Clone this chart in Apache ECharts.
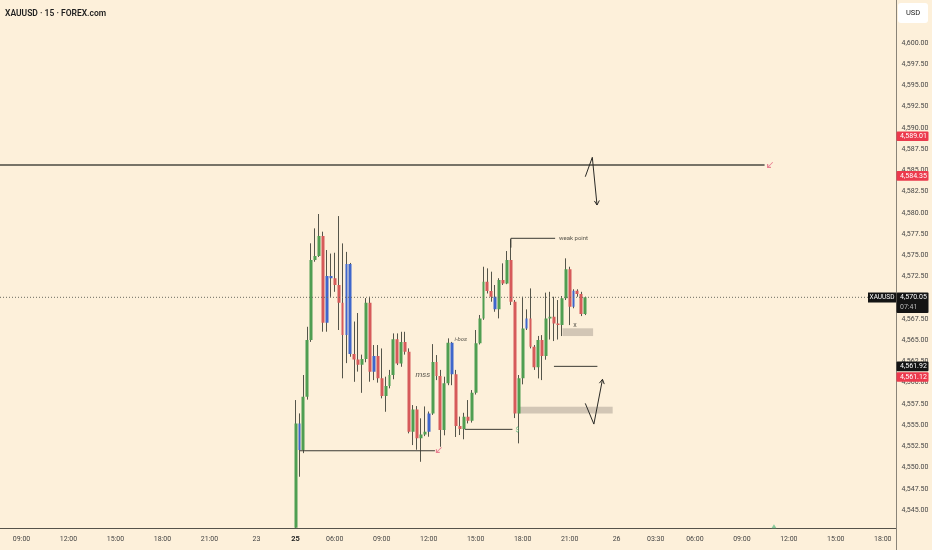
<!DOCTYPE html>
<html><head><meta charset="utf-8">
<script src="https://cdn.jsdelivr.net/npm/echarts@6/dist/echarts.min.js"></script>
<style>html,body{margin:0;padding:0;background:#fdf0da}#c{width:932px;height:550px}</style>
</head><body><div id="c"></div>
<script>
// ---- time slots (15 min bars) : [day, first time, bar count]
const daySegments = [['22','07:45',65],['23','00:00',10],['25','03:30',82],['26','00:00',10],['26','03:30',62]];
// ---- tick labels shown on the time axis
const tickLabels = [['22 09:00','09:00'],['22 12:00','12:00'],['22 15:00','15:00'],['22 18:00','18:00'],['22 21:00','21:00'],
  ['23 00:00','23'],['25 03:30','25'],['25 06:00','06:00'],['25 09:00','09:00'],['25 12:00','12:00'],['25 15:00','15:00'],
  ['25 18:00','18:00'],['25 21:00','21:00'],['26 00:00','26'],['26 03:30','03:30'],['26 06:00','06:00'],['26 09:00','09:00'],
  ['26 12:00','12:00'],['26 15:00','15:00'],['26 18:00','18:00']];
const boldTicks = ['25'];
// ---- candles [open, close, low, high], first candle at slot 75 (its open lies at the bottom edge of the view)
const candleStart = 75;
const ohlc = [
[4542.90,4555.20,4542.90,4557.95],[4555.20,4552.06,4548.92,4556.38],[4552.06,4558.34,4551.70,4560.90],[4558.34,4565.02,4558.00,4566.58],[4565.02,4574.44,4564.80,4576.41],
[4574.44,4574.91,4574.24,4578.17],[4574.91,4577.27,4574.80,4579.86],[4577.27,4567.05,4566.00,4577.78],[4567.05,4572.56,4566.00,4575.62],[4572.56,4572.30,4570.10,4575.20],
[4572.30,4571.49,4570.70,4575.30],[4571.49,4569.41,4566.20,4579.62],[4569.41,4565.61,4560.51,4576.40],[4565.61,4573.97,4562.30,4575.40],[4573.97,4563.37,4563.05,4574.10],
[4563.37,4562.74,4560.10,4567.20],[4562.74,4562.11,4561.30,4568.20],[4562.11,4562.80,4558.80,4563.30],[4562.80,4569.41,4562.40,4569.96],[4569.41,4561.28,4560.11,4570.12],
[4561.28,4563.13,4560.30,4564.43],[4563.13,4560.51,4560.00,4564.43],[4560.51,4558.42,4558.15,4564.03],[4558.42,4559.60,4556.57,4560.70],[4559.60,4560.90,4559.33,4561.50],
[4560.90,4565.10,4560.40,4565.80],[4565.10,4562.27,4562.07,4565.80],[4562.27,4564.78,4561.87,4565.99],[4564.78,4563.64,4563.30,4565.99],[4563.64,4554.22,4554.03,4564.04],
[4554.22,4556.85,4552.65,4557.36],[4556.85,4553.44,4552.10,4557.24],[4553.44,4553.90,4550.68,4555.80],[4553.90,4554.22,4553.70,4557.20],[4554.22,4556.38,4553.63,4556.60],
[4556.38,4562.43,4556.20,4564.54],[4562.43,4560.78,4560.30,4563.25],[4560.78,4554.42,4552.45,4561.50],[4554.42,4559.92,4553.80,4560.70],[4559.92,4564.70,4559.70,4565.22],
[4564.70,4561.00,4559.70,4564.80],[4561.00,4554.89,4553.60,4561.50],[4554.89,4554.53,4553.83,4556.00],[4554.53,4555.98,4553.33,4556.45],[4555.98,4555.51,4555.20,4557.95],
[4555.51,4558.81,4555.30,4559.13],[4558.81,4564.63,4558.60,4566.20],[4564.63,4567.57,4564.50,4567.97],[4567.57,4571.88,4567.40,4573.65],[4571.88,4570.79,4570.50,4573.46],
[4570.79,4570.12,4569.53,4573.07],[4570.12,4568.63,4568.35,4571.50],[4568.63,4572.08,4567.57,4572.30],[4572.08,4571.69,4571.50,4574.05],[4571.69,4574.44,4571.60,4575.50],
[4574.44,4569.53,4569.14,4576.90],[4569.53,4556.38,4555.83,4569.73],[4556.38,4560.51,4552.85,4560.90],[4560.51,4566.39,4559.80,4570.12],[4566.39,4567.57,4566.20,4568.63],
[4567.57,4564.23,4564.04,4571.10],[4564.23,4561.80,4561.50,4564.43],[4561.80,4565.02,4560.50,4565.50],[4565.02,4563.13,4560.30,4565.60],[4563.13,4567.57,4562.70,4570.60],
[4567.57,4567.76,4565.08,4570.70],[4567.76,4566.98,4564.90,4570.12],[4566.98,4566.78,4565.08,4569.73],[4566.78,4569.93,4565.49,4570.20],[4569.93,4573.35,4569.73,4574.64],
[4573.35,4568.94,4566.78,4573.65],[4568.94,4570.83,4568.76,4571.00],[4570.83,4570.44,4570.12,4571.00],[4570.44,4568.08,4567.84,4570.70],[4568.08,4570.05,4567.96,4570.12]
];
// candle highlight classes: G green, R red, B blue
const candleClasses = 'GBGGG GGRBB RRRBB RRGGR BRRGG GRGRR GRGGB GRRGG BRRGR GGGGR RBGRG RRGGB RRGRG GRRGG RBRRG'.replace(/ /g,'').split('');
const lastPrice = 4570.05;
// ---- drawings, points are [slot, price]
const resistanceLine = [[-0.5,4585.63],[194.8,4585.63]];
const lowLineA = [[76.1,4551.98],[110.6,4551.98]];
const lowLineB = [[118.2,4554.50],[130.4,4554.50]];
const midLine = [[141.0,4561.92],[152.1,4561.92]];
const weakPointLine = [[130,4575.9],[130,4577.0],[141.3,4577.0]];
const arrowDown = [[149.0,4584.25],[150.8,4586.54],[152.0,4580.92]];
const arrowDownHead = [[151.33,4581.40],[152.0,4580.92],[152.6,4581.46]];
const arrowUp = [[149.0,4557.56],[151.2,4555.12],[153.4,4560.39]];
const arrowUpHead = [[152.6,4559.94],[153.4,4560.39],[153.85,4559.83]];
const zoneUpper = [[143.2,4566.40],[151.0,4565.49]];
const zoneLower = [[131.9,4557.16],[156.0,4556.38]];
const pinkMarks = [[196.2,4585.63],[111.6,4552.06]];
const greenMarks = [[131.7,4554.42]];
const axisMark = [[197.2,4543.1]];
const notes = [['mss',107.5,4560.9],['i-bos',117.2,4565.1],['weak point',142.3,4577.0],['x',146.4,4566.75]];
const priceTags = [[4589.01,'red',''],[4584.35,'red',''],[4570.05,'black','07:41'],[4561.92,'black',''],[4561.12,'red','']];

// ---- build categories
const categories = [];
daySegments.forEach(([d,t,n])=>{let [h,m]=t.split(':').map(Number);let mins=h*60+m;
  for(let k=0;k<n;k++){const mm=mins+k*15;categories.push(d+' '+String(Math.floor(mm/60)).padStart(2,'0')+':'+String(mm%60).padStart(2,'0'));}});
const tickMap = new Map(tickLabels);
const N = categories.length;
const colorMap = {G:'#4f9e51',R:'#d65a5a',B:'#3e66cc'};
const edgeMap = {G:'#3d7f40',R:'#b44646',B:'#3152a8'};
const wickData = categories.map((c,i)=>{const k=i-candleStart;return (k<0||k>=ohlc.length)?'-':ohlc[k];});
const bodyData = categories.map((c,i)=>{const k=i-candleStart;if(k<0||k>=ohlc.length)return '-';
  const col=colorMap[candleClasses[k]];return {value:ohlc[k],itemStyle:{color:col,color0:col,borderColor:col,borderColor0:col}};});

const FONT='Roboto';
function lineSeries(pts,opt){return Object.assign({type:'line',xAxisIndex:1,yAxisIndex:0,data:pts,symbol:'none',silent:true,animation:false,
  lineStyle:{color:'#3a3a33',width:1}},opt||{});}

const chart = echarts.init(document.getElementById('c'),null,{renderer:'canvas'});
const option = {
  backgroundColor:'#fdf0da',animation:false,
  title:{text:'XAUUSD · 15 · FOREX.com',left:5,top:9,padding:0,textStyle:{fontSize:8.5,fontWeight:600,color:'#1e1e1e',fontFamily:FONT}},
  grid:{left:0,right:35.5,top:0.55,bottom:18.75,containLabel:false},
  xAxis:[{type:'category',data:categories,boundaryGap:true,offset:-3,
      axisLine:{lineStyle:{color:'#56534a',width:1.2}},axisTick:{show:false},splitLine:{show:false},
      axisLabel:{interval:(i,v)=>tickMap.has(v),formatter:v=>{const t=tickMap.get(v)||'';return boldTicks.includes(t)?'{b|'+t+'}':t;},
        margin:7,fontSize:7,color:'#444',fontFamily:FONT,rich:{b:{fontWeight:'bold',fontSize:7.5,color:'#222',fontFamily:FONT}}}},
    {type:'value',min:-0.5,max:N-0.5,show:false}],
  yAxis:{type:'value',position:'right',min:4542.5,max:4605,interval:2.5,scale:true,
    axisLine:{show:false},axisTick:{show:false},splitLine:{show:false},
    axisLabel:{margin:5,fontSize:7,color:'#444',fontFamily:FONT,
      formatter:v=>(v<4544||v>4601)?'':v.toLocaleString('en-US',{minimumFractionDigits:2,maximumFractionDigits:2})}},
  series:[
    lineSeries([[-0.5,lastPrice],[N-0.5,lastPrice]],{lineStyle:{color:'#6a6a60',width:1,type:[1,2]}}),
    lineSeries(resistanceLine,{lineStyle:{color:'#4a4a40',width:1.4}}),
    lineSeries(lowLineA,{lineStyle:{color:'#3a3a33',width:1}}),
    lineSeries(lowLineB,{lineStyle:{color:'#3a3a33',width:1}}),
    lineSeries(midLine,{lineStyle:{color:'#3a3a33',width:1}}),
    lineSeries(weakPointLine,{lineStyle:{color:'#3a3a33',width:1}}),
    lineSeries(zoneUpper,{lineStyle:{opacity:0},markArea:{silent:true,itemStyle:{color:'rgba(150,140,130,0.42)'},
      data:[[{coord:zoneUpper[0]},{coord:zoneUpper[1]}],[{coord:zoneLower[0]},{coord:zoneLower[1]}]]}}),
    // wicks
    {type:'candlestick',xAxisIndex:0,yAxisIndex:0,data:wickData,barWidth:1,animation:false,silent:true,
      itemStyle:{color:'#55554a',color0:'#55554a',borderColor:'#55554a',borderColor0:'#55554a',borderWidth:1}},
    // bodies
    {type:'candlestick',xAxisIndex:0,yAxisIndex:0,data:bodyData,barWidth:3.4,animation:false,silent:true,
      itemStyle:{borderWidth:0}},
    lineSeries(arrowDown,{lineStyle:{color:'#2a2a26',width:1}}),
    lineSeries(arrowDownHead,{lineStyle:{color:'#2a2a26',width:1}}),
    lineSeries(arrowUp,{lineStyle:{color:'#2a2a26',width:1}}),
    lineSeries(arrowUpHead,{lineStyle:{color:'#2a2a26',width:1}}),
    {type:'scatter',xAxisIndex:1,data:pinkMarks,symbol:'path://M9,0 L10,1 L3,8 L6.5,8 L6.5,10 L0,10 L0,3.5 L2,3.5 L2,7 Z',
      symbolSize:6,itemStyle:{color:'#e2647f'},silent:true},
    {type:'scatter',xAxisIndex:1,data:greenMarks,symbolSize:0,silent:true,
      label:{show:true,position:'inside',formatter:'$',fontSize:7,color:'#4caf6e',fontFamily:FONT}},
    {type:'scatter',xAxisIndex:1,data:axisMark,symbol:'triangle',symbolSize:[5,4],itemStyle:{color:'#6cc08a'},silent:true},
    {type:'scatter',xAxisIndex:1,symbolSize:0,silent:true,
      data:notes.map(n=>({name:n[0],value:[n[1],n[2]]})),
      label:{show:true,position:'inside',formatter:p=>p.name,fontFamily:FONT,color:'#2a2a26'}}
  ]
};
// per-note label style
option.series[option.series.length-1].data.forEach(d=>{
  if(d.name==='mss') d.label={fontSize:8,fontStyle:'italic'};
  else if(d.name==='i-bos') d.label={fontSize:6,fontStyle:'italic'};
  else if(d.name==='weak point') d.label={fontSize:6,align:'left',position:'right',distance:0};
  else d.label={fontSize:7};
});
chart.setOption(option);

// ---- right scale tags and frame
const g=[];
g.push({type:'line',shape:{x1:896.5,y1:0,x2:896.5,y2:550},style:{stroke:'#8a8478',lineWidth:1},z:50});
g.push({type:'rect',shape:{x:898,y:3,width:30,height:20,r:3},style:{fill:'#ffffff'},z:50});
g.push({type:'text',x:913,y:13,style:{text:'USD',fontSize:7.5,fill:'#222',align:'center',verticalAlign:'middle',fontFamily:FONT},z:51});
let prevBottom=-1e9;
priceTags.forEach(([v,kind,sub])=>{
  let y=chart.convertToPixel({yAxisIndex:0},v);
  let top=y-4.8; if(top<prevBottom+1){top=prevBottom+1;}
  const h=sub?20.5:9.6;
  g.push({type:'rect',shape:{x:896.5,y:top,width:32,height:h,r:1},style:{fill:kind==='red'?'#ec3a4d':'#141414'},z:60});
  g.push({type:'text',x:900,y:top+4.8,style:{text:v.toLocaleString('en-US',{minimumFractionDigits:2}),fontSize:7,fill:'#fff',verticalAlign:'middle',fontFamily:FONT},z:61});
  if(sub)g.push({type:'text',x:900,y:top+15,style:{text:sub,fontSize:7,fill:'#b9b9b9',verticalAlign:'middle',fontFamily:FONT},z:61});
  if(v===lastPrice){
    g.push({type:'rect',shape:{x:868,y:top,width:28,height:10},style:{fill:'#141414'},z:60});
    g.push({type:'text',x:882,y:top+5,style:{text:'XAUUSD',fontSize:6.5,fill:'#fff',align:'center',verticalAlign:'middle',fontFamily:FONT},z:61});
  }
  prevBottom=top+h;
});
chart.setOption({graphic:g});
</script></body></html>
